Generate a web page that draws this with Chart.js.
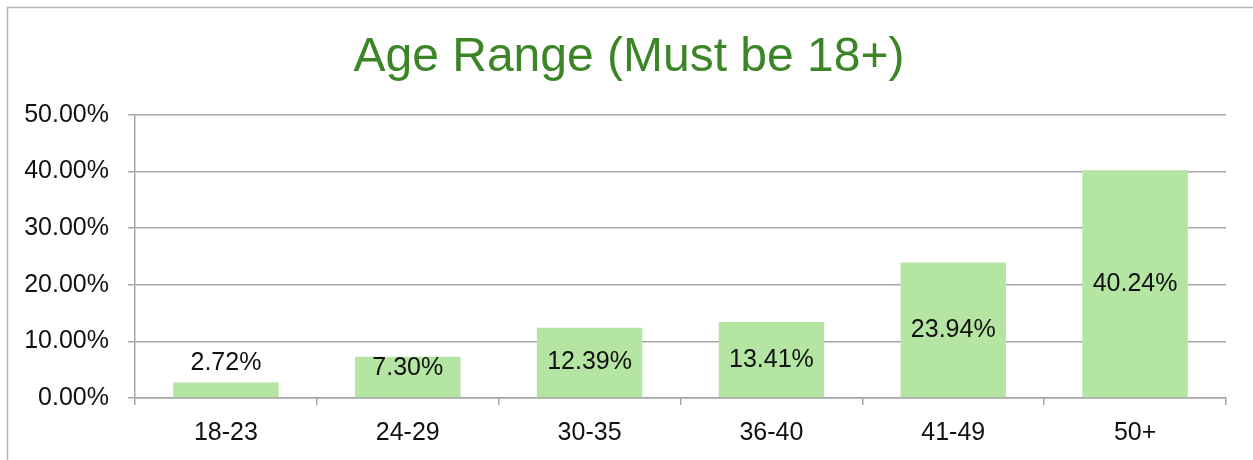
<!DOCTYPE html>
<html>
<head>
<meta charset="utf-8">
<script src="https://cdn.jsdelivr.net/npm/chart.js@4/dist/chart.umd.min.js"></script>
<style>
  html, body { margin: 0; padding: 0; background: #fff; }
  #wrap { width: 1253px; height: 460px; position: relative; }
</style>
</head>
<body>
<div id="wrap"><canvas id="chart"></canvas></div>
<script>
'use strict';

var ageGroups = ['18-23', '24-29', '30-35', '36-40', '41-49', '50+'];
var agePercents = [2.72, 7.30, 12.39, 13.41, 23.94, 40.24];
var yTicks = [0, 10, 20, 30, 40, 50];
var chartTitle = 'Age Range (Must be 18+)';

var gridColor = '#a6a6a6';
var fontName = '"Liberation Sans", Arial, sans-serif';

// light frame round the chart and the title, which sits a bit right of centre
var framePlugin = {
    id: 'frame',
    beforeDraw: function (chart) {
        var ctx = chart.ctx;
        ctx.save();
        ctx.strokeStyle = '#b4b4b4';
        ctx.lineWidth = 1.5;
        ctx.beginPath();
        ctx.moveTo(7.5, chart.height);
        ctx.lineTo(7.5, 7.5);
        ctx.lineTo(chart.width, 7.5);
        ctx.stroke();

        ctx.font = '48px ' + fontName;
        ctx.fillStyle = '#3b8527';
        ctx.textAlign = 'center';
        ctx.textBaseline = 'middle';
        ctx.fillText(chartTitle, 629, 58);
        ctx.restore();
    }
};

// value labels, centred in the bar or just above it when the bar is short
var valueLabels = {
    id: 'valueLabels',
    afterDatasetsDraw: function (chart) {
        var ctx = chart.ctx;
        var meta = chart.getDatasetMeta(0);
        ctx.save();
        ctx.font = '25px ' + fontName;
        ctx.fillStyle = '#111';
        ctx.textAlign = 'center';
        ctx.textBaseline = 'middle';
        meta.data.forEach(function (bar, i) {
            var top = bar.y, base = bar.base;
            var y;
            if (base - top < 20) {
                y = top - 19;
            } else {
                y = Math.min((top + base) / 2, base - 29);
            }
            ctx.fillText(agePercents[i].toFixed(2) + '%', bar.x, y);
        });
        ctx.restore();
    }
};

var ctx = document.getElementById('chart').getContext('2d');
var chart = new Chart(ctx, {
    type: 'bar',
    data: {
        labels: ageGroups,
        datasets: [{
            data: agePercents,
            backgroundColor: '#b5e5a3',
            borderWidth: 0,
            barPercentage: 0.58,
            categoryPercentage: 1
        }]
    },
    options: {
        responsive: true,
        maintainAspectRatio: false,
        animation: false,
        layout: { padding: { left: 8, right: 27, top: 115, bottom: 0 } },
        plugins: {
            legend: { display: false },
            tooltip: { enabled: false },
            title: { display: false }
        },
        scales: {
            x: {
                offset: true,
                grid: {
                    offset: true,
                    drawOnChartArea: false,
                    drawTicks: true,
                    tickLength: 7,
                    color: gridColor,
                    lineWidth: 1.5
                },
                border: { display: true, color: gridColor, width: 1.5 },
                ticks: {
                    color: '#111',
                    padding: 13,
                    font: { family: fontName, size: 25 }
                },
                afterFit: function (scale) { scale.height = 62; }
            },
            y: {
                min: yTicks[0],
                max: yTicks[yTicks.length - 1],
                afterBuildTicks: function (scale) {
                    scale.ticks = yTicks.map(function (v) { return { value: v }; });
                },
                grid: {
                    drawTicks: true,
                    tickLength: 7,
                    color: gridColor,
                    lineWidth: 1.5
                },
                border: { display: true, color: gridColor, width: 1.5 },
                ticks: {
                    color: '#111',
                    padding: 19,
                    font: { family: fontName, size: 25 },
                    callback: function (v) { return v.toFixed(2) + '%'; }
                },
                afterFit: function (scale) { scale.width = 127; }
            }
        }
    },
    plugins: [framePlugin, valueLabels]
});
</script>
</body>
</html>
